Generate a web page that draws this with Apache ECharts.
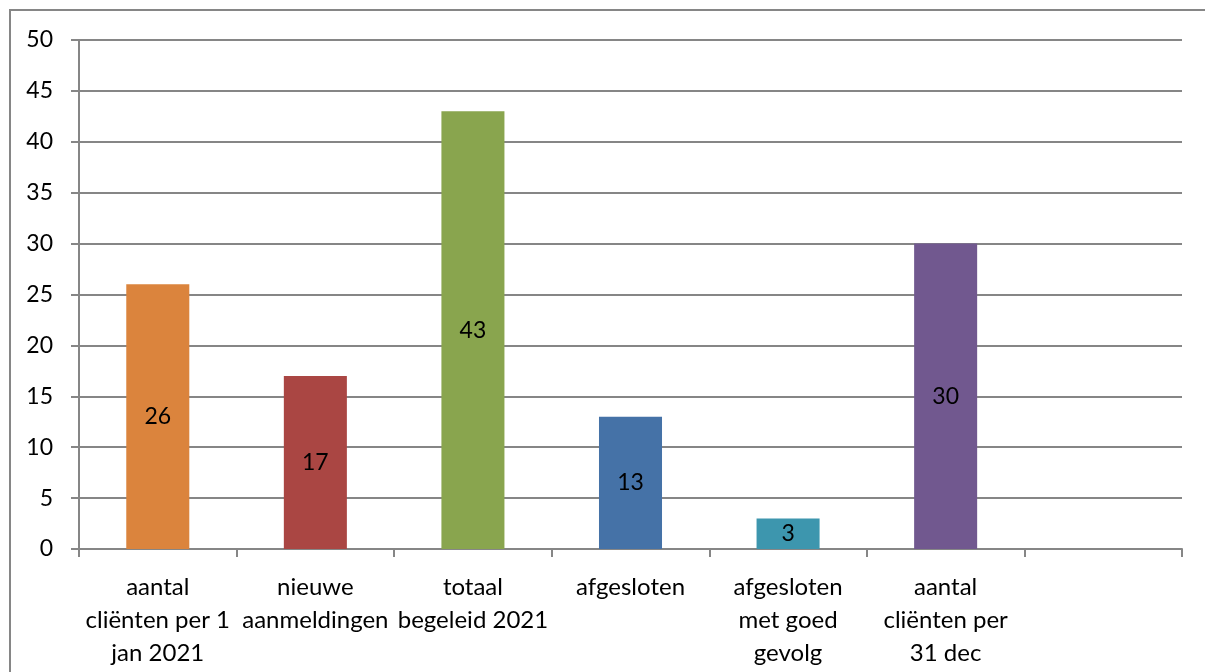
<!DOCTYPE html>
<html>
<head>
<meta charset="utf-8">
<script src="https://cdn.jsdelivr.net/npm/echarts@6/dist/echarts.min.js"></script>
<style>
  html, body { margin: 0; padding: 0; background: #fff; }
  #chart { width: 1205px; height: 672px; }
</style>
</head>
<body>
<div id="chart"></div>
<script>
// categories (last one is an empty slot in the original)
var categories = [
  'aantal\ncliënten per 1\njan 2021',
  'nieuwe\naanmeldingen',
  'totaal\nbegeleid 2021',
  'afgesloten',
  'afgesloten\nmet goed\ngevolg',
  'aantal\ncliënten per\n31 dec',
  ''
]
var values = [26, 17, 43, 13, 3, 30, null]
var barColors = ['#DB843D', '#AA4643', '#89A54E', '#4572A7', '#3D96AE', '#71588F', '#92A8CD']

var axisGray = '#868686'
var font = 'Lato, "Noto Sans", sans-serif'

var chart = echarts.init(document.getElementById('chart'))

chart.setOption({
  animation: false,
  backgroundColor: '#fff',
  graphic: [{
    type: 'rect',
    shape: { x: 10, y: 10, width: 1400, height: 900 },
    style: { fill: 'none', stroke: axisGray, lineWidth: 2 },
    silent: true
  }],
  grid: {
    left: 79,
    right: 23,
    top: 40,
    bottom: 123
  },
  xAxis: {
    type: 'category',
    data: categories,
    axisLine: { lineStyle: { color: axisGray, width: 2 } },
    axisTick: { show: true, length: 8, lineStyle: { color: axisGray, width: 2 } },
    axisLabel: {
      interval: 0,
      margin: 22,
      color: '#000',
      fontFamily: font,
      fontSize: 24,
      lineHeight: 33
    }
  },
  yAxis: {
    type: 'value',
    min: 0,
    max: 50,
    interval: 5,
    axisLine: { show: true, lineStyle: { color: axisGray, width: 2 } },
    axisTick: { show: true, length: 8, lineStyle: { color: axisGray, width: 2 } },
    splitLine: { lineStyle: { color: axisGray, width: 2 } },
    axisLabel: {
      margin: 26,
      color: '#000',
      fontFamily: font,
      fontSize: 23
    }
  },
  series: [{
    type: 'bar',
    barWidth: '40%',
    data: values.map(function (v, i) {
      return { value: v, itemStyle: { color: barColors[i] } }
    }),
    label: {
      show: true,
      position: 'inside',
      color: '#000',
      fontFamily: font,
      fontSize: 23
    }
  }]
})
</script>
</body>
</html>
